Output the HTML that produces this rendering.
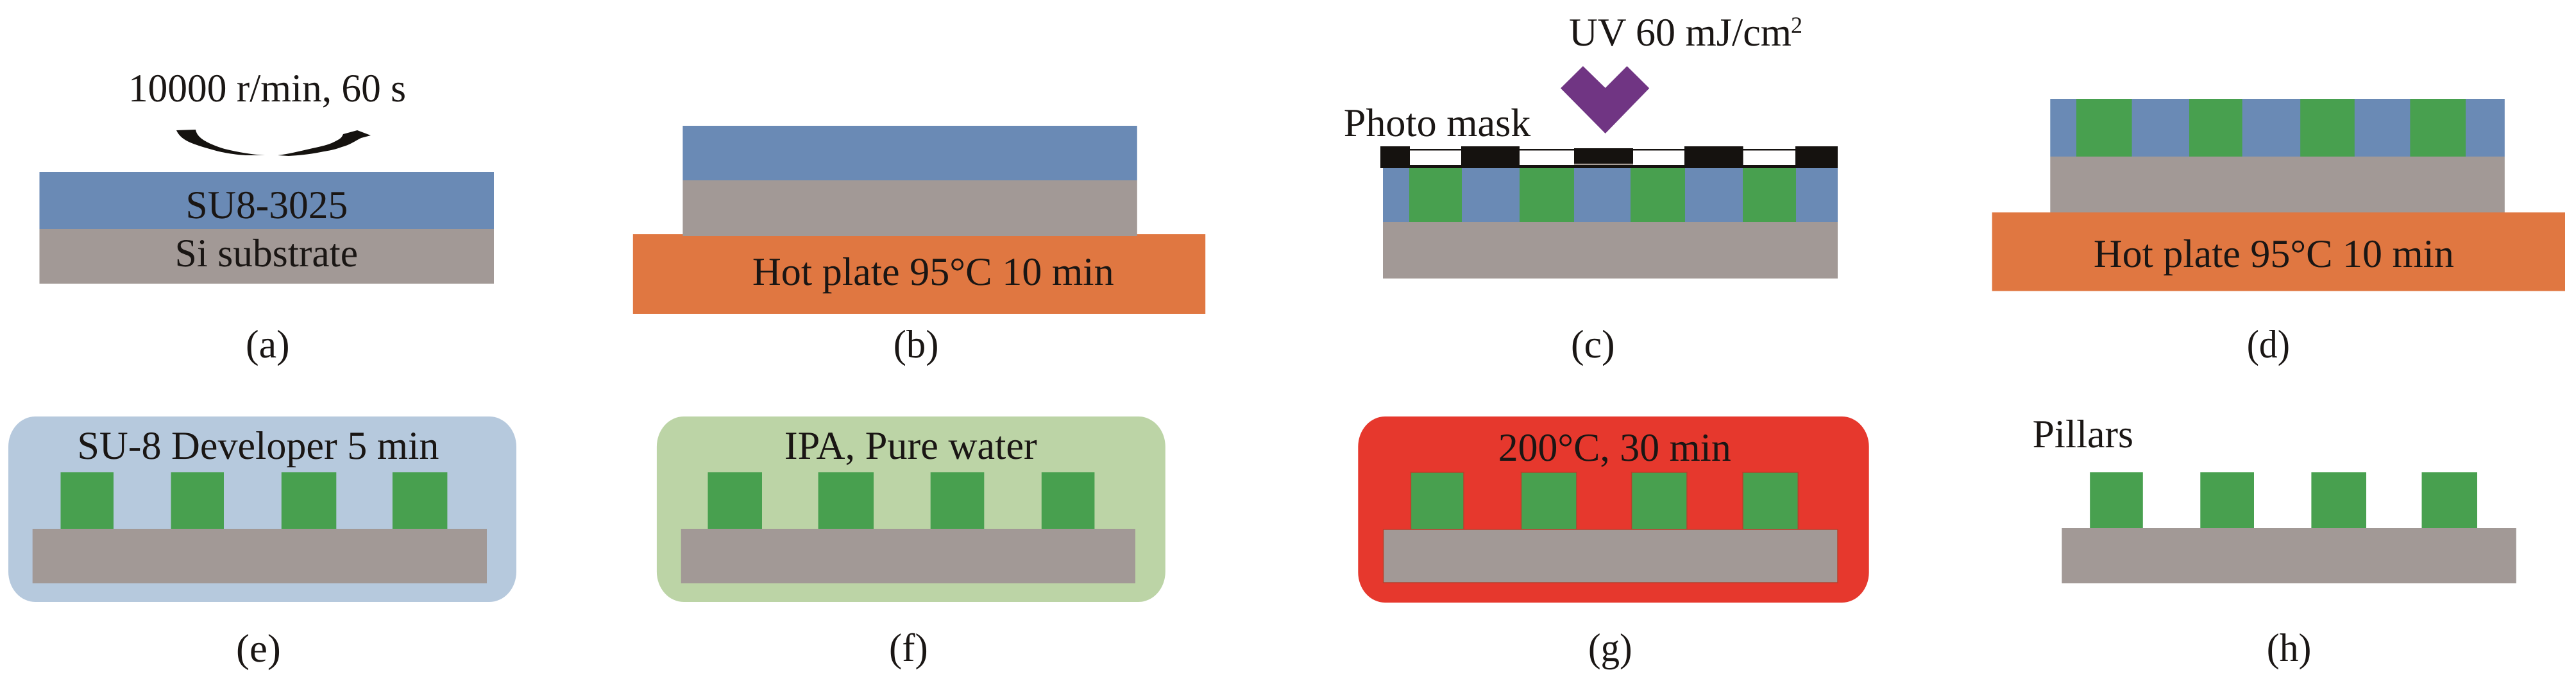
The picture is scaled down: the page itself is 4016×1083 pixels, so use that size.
<!DOCTYPE html>
<html lang="en">
<head>
<meta charset="utf-8">
<title>SU-8 pillar fabrication process</title>
<style>
html,body{margin:0;padding:0;background:#fff;width:4016px;height:1083px;overflow:hidden}
svg{display:block}
text{font-family:"Liberation Serif",serif;font-size:62px;fill:#1a1614;text-rendering:geometricPrecision}
.b{fill:#6a8ab5}.s{fill:#a29996}.o{fill:#e07741}.g{fill:#48a04f}.k{fill:#15120f}
</style>
</head>
<body>
<svg xmlns="http://www.w3.org/2000/svg" width="4016" height="1083" viewBox="0 0 4016 1083">
<rect width="4016" height="1083" fill="#fff"/>

<!-- (a) -->
<text x="200" y="158" textLength="433" lengthAdjust="spacingAndGlyphs">10000 r/min, 60 s</text>
<path class="k" d="M275,203 L305,202 C307,212 315,221 350,232 C375,238 395,241 413,242 L383,242 C355,240 340,236 323,231 C300,224 282,219 275,203 Z"/>
<path class="k" d="M433,242 C450,240 465,236 483,232 C497,229 507,227 517,223 C525,219 530,217 533,213 L535,209 L557,203 L578,211 L563,215 C553,220 545,226 533,229 C520,234 510,235 500,237 C480,241 465,242 450,243 Z"/>
<rect class="b" x="61.5" y="268" width="708.5" height="89"/>
<rect class="s" x="61.5" y="357" width="708.5" height="85"/>
<text x="289.5" y="340" textLength="252.7" lengthAdjust="spacingAndGlyphs">SU8-3025</text>
<text x="272.6" y="415" textLength="285.5" lengthAdjust="spacingAndGlyphs">Si substrate</text>
<text x="383" y="557" textLength="68.6" lengthAdjust="spacingAndGlyphs">(a)</text>

<!-- (b) -->
<rect class="o" x="986.8" y="365" width="892.4" height="124"/>
<rect class="b" x="1064.4" y="196" width="708.4" height="85"/>
<rect class="s" x="1064.4" y="281" width="708.4" height="87"/>
<text x="1172.9" y="444" textLength="563.8" lengthAdjust="spacingAndGlyphs">Hot plate 95°C 10 min</text>
<text x="1392.7" y="557" textLength="70.7" lengthAdjust="spacingAndGlyphs">(b)</text>

<!-- (c) -->
<text x="2446" y="71" textLength="347" lengthAdjust="spacingAndGlyphs">UV 60 mJ/cm</text>
<text x="2792" y="51" style="font-size:36px">2</text>
<polygon fill="#703583" points="2467.9,103 2502.7,137 2536.5,103 2571.3,137.5 2502.7,208 2433,137.5"/>
<text x="2094.8" y="212" textLength="291.5" lengthAdjust="spacingAndGlyphs">Photo mask</text>
<rect class="b" x="2156" y="261" width="709" height="85"/>
<rect class="g" x="2197" y="261" width="82" height="85"/>
<rect class="g" x="2369" y="261" width="85" height="85"/>
<rect class="g" x="2542" y="261" width="85" height="85"/>
<rect class="g" x="2717" y="261" width="83" height="85"/>
<rect class="s" x="2156" y="346" width="709" height="88"/>
<rect class="k" x="2152" y="257" width="713" height="5"/>
<rect class="k" x="2152" y="232" width="713" height="2.5"/>
<rect class="k" x="2152" y="228" width="46" height="33"/>
<rect class="k" x="2278" y="228" width="91" height="33"/>
<rect fill="#fff" x="2454" y="234" width="92" height="23"/>
<rect class="k" x="2454" y="231" width="92" height="24"/>
<rect fill="#a89f98" x="2454" y="255" width="92" height="2"/>
<rect class="k" x="2626" y="228" width="91.6" height="33"/>
<rect class="k" x="2799" y="228" width="66" height="33"/>
<text x="2449" y="557" textLength="68.6" lengthAdjust="spacingAndGlyphs">(c)</text>

<!-- (d) -->
<rect class="b" x="3196.3" y="154" width="708.5" height="90"/>
<rect class="g" x="3237" y="154" width="86.6" height="90"/>
<rect class="g" x="3413" y="154" width="82.7" height="90"/>
<rect class="g" x="3586.2" y="154" width="84.6" height="90"/>
<rect class="g" x="3757.4" y="154" width="86.6" height="90"/>
<rect class="s" x="3196.3" y="244" width="708.5" height="87"/>
<rect class="o" x="3105.7" y="331" width="893.3" height="122.5"/>
<text x="3263.9" y="416" textLength="562" lengthAdjust="spacingAndGlyphs">Hot plate 95°C 10 min</text>
<text x="3502.7" y="557" textLength="67.3" lengthAdjust="spacingAndGlyphs">(d)</text>

<!-- (e) -->
<rect fill="#b6c9dd" x="13" y="649" width="792" height="289" rx="42" ry="47"/>
<rect class="g" x="94.5" y="736" width="82.5" height="88"/>
<rect class="g" x="266.6" y="736" width="82.4" height="88"/>
<rect class="g" x="438.8" y="736" width="85.5" height="88"/>
<rect class="g" x="611.9" y="736" width="85.5" height="88"/>
<rect class="s" x="50.7" y="824" width="708.3" height="85"/>
<text x="120.4" y="715" textLength="564" lengthAdjust="spacingAndGlyphs">SU-8 Developer 5 min</text>
<text x="368" y="1031" textLength="69.8" lengthAdjust="spacingAndGlyphs">(e)</text>

<!-- (f) -->
<rect fill="#bcd4a6" x="1023.9" y="649" width="792.9" height="289" rx="42" ry="47"/>
<rect class="g" x="1103.5" y="736" width="84.5" height="88"/>
<rect class="g" x="1275.6" y="736" width="86.4" height="88"/>
<rect class="g" x="1450.7" y="736" width="83.6" height="88"/>
<rect class="g" x="1623.8" y="736" width="82.6" height="88"/>
<rect class="s" x="1061.7" y="824" width="708.3" height="85"/>
<text x="1222.9" y="715" textLength="393.9" lengthAdjust="spacingAndGlyphs">IPA, Pure water</text>
<text x="1386" y="1030" textLength="60.7" lengthAdjust="spacingAndGlyphs">(f)</text>

<!-- (g) -->
<rect fill="#e6382d" x="2117.3" y="649" width="796.4" height="290" rx="42" ry="47"/>
<rect class="g" x="2199.4" y="736" width="82.6" height="89" stroke="#b8402c" stroke-width="1.5"/>
<rect class="g" x="2371.5" y="736" width="86.5" height="89" stroke="#b8402c" stroke-width="1.5"/>
<rect class="g" x="2543.6" y="736" width="86.4" height="89" stroke="#b8402c" stroke-width="1.5"/>
<rect class="g" x="2717" y="736" width="86.3" height="89" stroke="#b8402c" stroke-width="1.5"/>
<rect class="s" x="2156.6" y="825" width="708.4" height="83" stroke="#b8402c" stroke-width="1.5"/>
<text x="2335.7" y="718" textLength="363.1" lengthAdjust="spacingAndGlyphs">200°C, 30 min</text>
<text x="2476" y="1030" textLength="68.6" lengthAdjust="spacingAndGlyphs">(g)</text>

<!-- (h) -->
<text x="3168.6" y="697" textLength="157.4" lengthAdjust="spacingAndGlyphs">Pillars</text>
<rect class="g" x="3258.2" y="736" width="82.6" height="88"/>
<rect class="g" x="3430.3" y="736" width="83.7" height="88"/>
<rect class="g" x="3603.4" y="736" width="85.6" height="88"/>
<rect class="g" x="3775.5" y="736" width="86.5" height="88"/>
<rect class="s" x="3214.4" y="823" width="708.4" height="86"/>
<text x="3533.8" y="1030" textLength="69.6" lengthAdjust="spacingAndGlyphs">(h)</text>
</svg>
</body>
</html>
